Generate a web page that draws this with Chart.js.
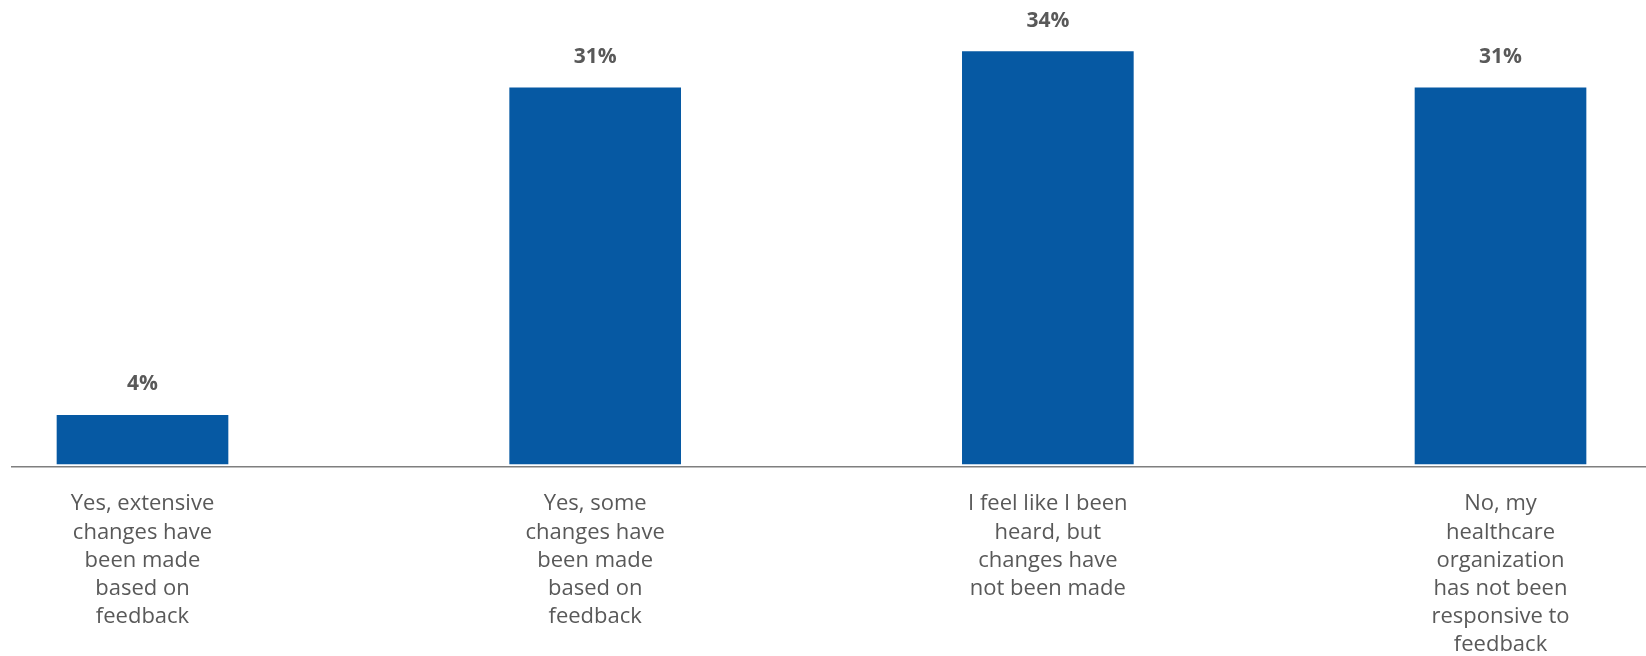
<!DOCTYPE html>
<html>
<head>
<meta charset="utf-8">
<script src="https://cdn.jsdelivr.net/npm/chart.js@4"></script>
<style>
  html, body { margin: 0; padding: 0; background: #ffffff; }
  #wrap { width: 1646px; height: 656px; }
</style>
</head>
<body>
<div id="wrap"><canvas id="c" width="1646" height="656"></canvas></div>
<script>
// ---- data ----
const categories = [
  ["Yes, extensive", "changes have", "been made", "based on", "feedback"],
  ["Yes, some", "changes have", "been made", "based on", "feedback"],
  ["I feel like I been", "heard, but", "changes have", "not been made"],
  ["No, my", "healthcare", "organization", "has not been", "responsive to", "feedback"]
];
const values = [4, 31, 34, 31];
const valueLabels = ["4%", "31%", "34%", "31%"];

// ---- styling ----
const BAR_COLOR = '#0659a3';
const TEXT_COLOR = '#595959';
const FONT = "'Open Sans', 'Lato', sans-serif";

const valueLabelPlugin = {
  id: 'valueLabels',
  afterDatasetsDraw(chart) {
    const ctx = chart.ctx;
    const meta = chart.getDatasetMeta(0);
    ctx.save();
    ctx.fillStyle = TEXT_COLOR;
    ctx.font = "bold 21px " + FONT;
    ctx.textAlign = 'center';
    ctx.textBaseline = 'middle';
    meta.data.forEach((bar, i) => {
      ctx.fillText(valueLabels[i], bar.x, bar.y - 31);
    });
    ctx.restore();
  }
};

const chart = new Chart(document.getElementById('c'), {
  type: 'bar',
  data: {
    datasets: [{
      data: categories.map((c, i) => ({ x: i, y: values[i] })),
      backgroundColor: BAR_COLOR,
      borderWidth: 0,
      barThickness: 171
    }]
  },
  options: {
    responsive: false,
    devicePixelRatio: 1,
    animation: false,
    layout: { padding: { left: 12, right: 0, top: 0, bottom: 0 } },
    plugins: {
      legend: { display: false },
      tooltip: { enabled: false }
    },
    scales: {
      x: {
        type: 'linear',
        offset: false,
        grace: 0,
        min: -0.2883,
        max: 3.3214,
        afterBuildTicks(scale) {
          scale.ticks = categories.map((c, i) => ({ value: i }));
        },
        afterFit(scale) { scale.height = 189; },
        grid: { display: false, drawTicks: false, offset: false },
        border: { display: true, color: '#7f7f7f', width: 1.5 },
        ticks: {
          autoSkip: false,
          maxRotation: 0,
          minRotation: 0,
          padding: 23,
          color: TEXT_COLOR,
          font: { family: FONT, size: 22, lineHeight: 1.28 },
          callback: (v) => categories[v] || ''
        }
      },
      y: {
        display: false,
        min: -0.25,
        max: 38.25
      }
    }
  },
  plugins: [valueLabelPlugin]
});
</script>
</body>
</html>
